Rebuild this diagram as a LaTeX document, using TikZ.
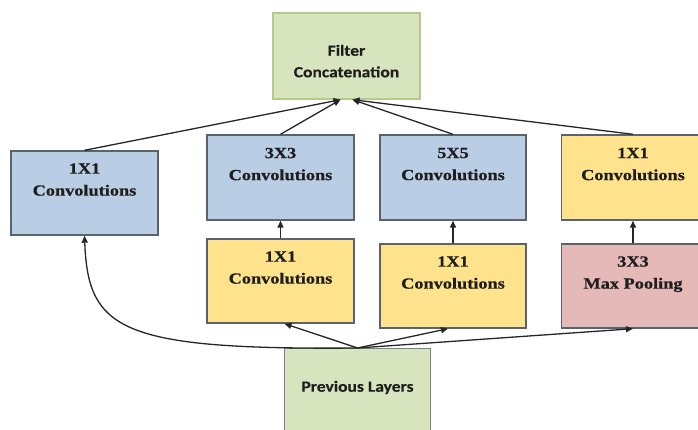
\documentclass[tikz,border=0pt]{standalone}
\usepackage{fontspec}
\setmainfont{Liberation Serif}
\newfontfamily\serb[FakeStretch=1.18, BoldFeatures={FakeBold=0.6}]{Liberation Serif}
\newfontfamily\sanb[FakeStretch=1.13, BoldFeatures={FakeBold=0.3}]{Carlito}
\usetikzlibrary{arrows.meta}
\definecolor{bluefill}{RGB}{185,205,229}
\definecolor{yellowfill}{RGB}{255,226,140}
\definecolor{pinkfill}{RGB}{230,185,185}
\definecolor{greenfill}{RGB}{215,228,190}
\definecolor{darkborder}{RGB}{90,98,108}
\definecolor{greenborder}{RGB}{180,203,140}
\definecolor{txt}{RGB}{30,30,30}
\tikzset{
  box/.style={draw=darkborder, line width=1.4pt, rectangle, inner sep=0pt, align=center,
    text=txt, font=\serb\bfseries\fontsize{15.5}{22}\selectfont, text depth=27pt},
  bluebox/.style={box, fill=bluefill},
  yellowbox/.style={box, fill=yellowfill},
  pinkbox/.style={box, fill=pinkfill},
  greenbox/.style={box, fill=greenfill, font=\sanb\bfseries\fontsize{15.5}{21.5}\selectfont},
  arr/.style={draw=black!85, line width=1.3pt, -{Triangle[length=7pt,width=6pt]}},
}
\begin{document}
\begin{tikzpicture}[x=1pt,y=-1pt]
\useasboundingbox (0,0) rectangle (698,430);
% top
\node[greenbox, draw=greenborder, minimum width=147, minimum height=86,
  text height=46pt, text depth=3.5pt] (fc) at (346.5,56) {Filter\\Concatenation};
% upper row
\node[bluebox, minimum width=147, minimum height=84] (c1) at (84.5,193) {1X1\\Convolutions};
\node[bluebox, minimum width=147, minimum height=85] (c3) at (280.5,177.5) {3X3\\Convolutions};
\node[bluebox, minimum width=146, minimum height=85] (c5) at (453,177.5) {5X5\\Convolutions};
\node[yellowbox, minimum width=143, minimum height=85] (cp) at (633,177.5) {1X1\\Convolutions};
% lower row
\node[yellowbox, minimum width=147, minimum height=84] (r1) at (280.5,281) {1X1\\Convolutions};
\node[yellowbox, minimum width=146, minimum height=84] (r5) at (453,286) {1X1\\Convolutions};
\node[pinkbox, minimum width=143, minimum height=84] (mp) at (633,286) {3X3\\Max Pooling};
% bottom
\node[greenbox, draw=darkborder!80, anchor=north, minimum width=146, minimum height=100,
  text height=12pt, text depth=26pt] (pl) at (357.5,348) {Previous Layers};
% arrows up into concatenation
\draw[arr] (c1.north) -- ([xshift=-6pt]fc.south);
\draw[arr] (c3.north) -- ([xshift=-6pt]fc.south);
\draw[arr] (c5.north) -- ([xshift=6pt]fc.south);
\draw[arr] (cp.north) -- ([xshift=6pt]fc.south);
% vertical arrows
\draw[arr] (r1.north) -- (c3.south);
\draw[arr] (r5.north) -- (c5.south);
\draw[arr] (mp.north) -- (cp.south);
% from previous layers
\draw[arr] (pl.north) .. controls (120,350) and (88,330) .. (c1.south);
\draw[arr] (pl.north) -- ([xshift=4pt]r1.south);
\draw[arr] (pl.north) -- ([xshift=-5pt]r5.south);
\draw[arr] (pl.north) -- (mp.south);
\end{tikzpicture}
\end{document}
